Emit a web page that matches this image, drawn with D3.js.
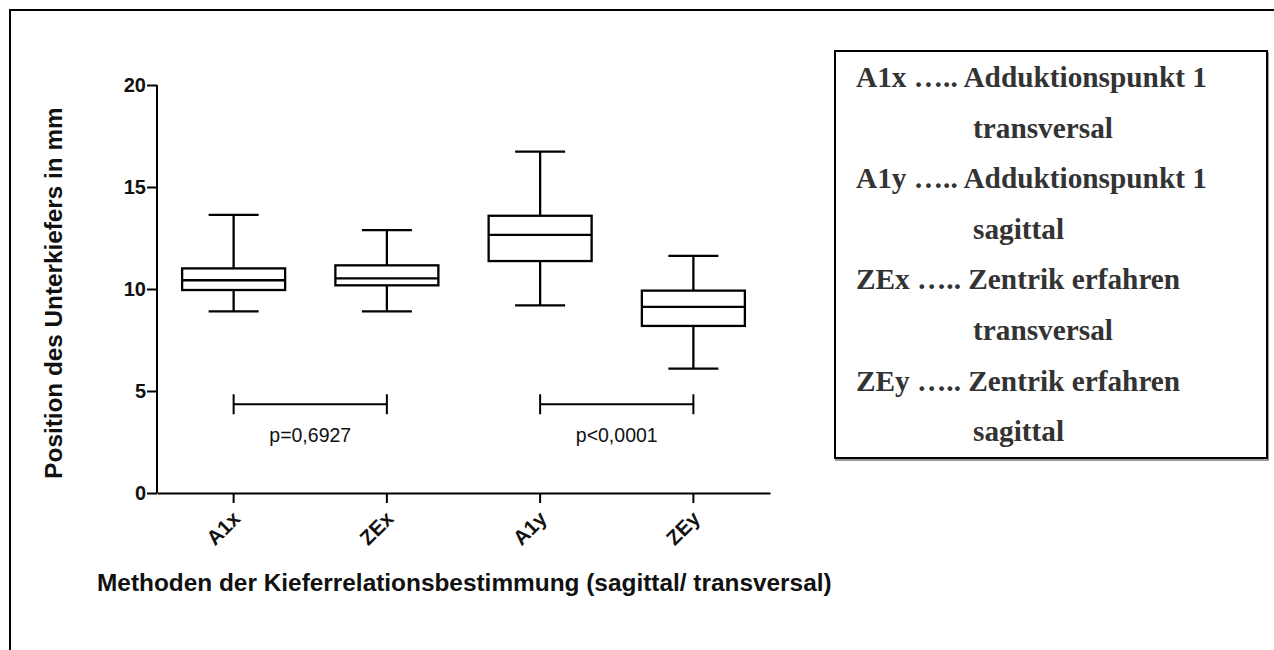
<!DOCTYPE html>
<html>
<head>
<meta charset="utf-8">
<script src="https://cdn.jsdelivr.net/npm/d3@7"></script>
<style>
  html, body { margin: 0; padding: 0; background: #fff; }
  svg { display: block; }
</style>
</head>
<body>
<svg id="chart" width="1274" height="650"></svg>
<script>
// Methods (x categories) and five-number summaries per method (mm)
const categories = ["A1x", "ZEx", "A1y", "ZEy"];
const whiskerLow  = [8.9, 8.9, 9.2, 6.1];
const quartile1   = [9.95, 10.18, 11.37, 8.19];
const medians     = [10.43, 10.52, 12.65, 9.12];
const quartile3   = [11.01, 11.16, 13.59, 9.92];
const whiskerHigh = [13.63, 12.89, 16.73, 11.62];

// Y axis ticks
const yTicks = [0, 5, 10, 15, 20];

// Significance comparisons: pairs of categories, bracket level (mm) and label
const compFrom   = ["A1x", "A1y"];
const compTo     = ["ZEx", "ZEy"];
const compLevel  = [4.35, 4.35];
const compLabels = ["p=0,6927", "p<0,0001"];

// Legend entries (abbreviation line + indented continuation line)
const legendMain = [
  "A1x \u2026.. Adduktionspunkt 1",
  "A1y \u2026.. Adduktionspunkt 1",
  "ZEx \u2026.. Zentrik erfahren",
  "ZEy \u2026.. Zentrik erfahren"
];
const legendSub = ["transversal", "sagittal", "transversal", "sagittal"];

const yTitle = "Position des Unterkiefers in mm";
const xTitle = "Methoden der Kieferrelationsbestimmung (sagittal/ transversal)";

const svg = d3.select("#chart");

// Outer frame
svg.append("rect")
  .attr("x", 10).attr("y", 10)
  .attr("width", 1300).attr("height", 700)
  .attr("fill", "none").attr("stroke", "#000").attr("stroke-width", 2);

const x = d3.scaleBand().domain(categories).range([157, 770]).padding(0);
const y = d3.scaleLinear().domain([0, 20]).range([493, 85]);

const axisFont = "Arial, 'Liberation Sans', sans-serif";

// Y axis
const yAxis = svg.append("g")
  .attr("transform", "translate(157,0)")
  .call(d3.axisLeft(y).tickValues(yTicks).tickSize(10).tickPadding(1).tickFormat(d3.format("d")));
yAxis.select(".domain").attr("stroke-width", 2).attr("d", `M0,${y(20)}V${y(0)}`);
yAxis.selectAll(".tick line").attr("stroke-width", 2);
yAxis.selectAll(".tick text")
  .attr("font-family", axisFont).attr("font-size", 20).attr("font-weight", "bold")
  .attr("fill", "#111");

// X axis
const xAxis = svg.append("g")
  .attr("transform", `translate(0,${y(0)})`)
  .call(d3.axisBottom(x).tickSize(10).tickSizeOuter(0));
xAxis.select(".domain").attr("stroke-width", 2);
xAxis.selectAll(".tick line").attr("stroke-width", 2);
xAxis.selectAll(".tick text")
  .attr("font-family", axisFont).attr("font-size", 20.5).attr("font-weight", "bold")
  .attr("fill", "#111")
  .attr("text-anchor", "end")
  .attr("dy", "0")
  .attr("transform", "translate(8,27) rotate(-45)")
  .attr("y", 0).attr("x", 0);

// Box plots
const boxW = 103, capW = 50;
const boxes = svg.append("g").attr("fill", "none").attr("stroke", "#000").attr("stroke-width", 2.3);
categories.forEach((c, i) => {
  const cx = x(c) + x.bandwidth() / 2;
  const g = boxes.append("g");
  // whiskers
  g.append("line").attr("x1", cx).attr("x2", cx).attr("y1", y(whiskerHigh[i])).attr("y2", y(quartile3[i]));
  g.append("line").attr("x1", cx).attr("x2", cx).attr("y1", y(quartile1[i])).attr("y2", y(whiskerLow[i]));
  g.append("line").attr("x1", cx - capW / 2).attr("x2", cx + capW / 2).attr("y1", y(whiskerHigh[i])).attr("y2", y(whiskerHigh[i]));
  g.append("line").attr("x1", cx - capW / 2).attr("x2", cx + capW / 2).attr("y1", y(whiskerLow[i])).attr("y2", y(whiskerLow[i]));
  // box and median
  g.append("rect").attr("x", cx - boxW / 2).attr("width", boxW)
    .attr("y", y(quartile3[i])).attr("height", y(quartile1[i]) - y(quartile3[i]));
  g.append("line").attr("x1", cx - boxW / 2).attr("x2", cx + boxW / 2).attr("y1", y(medians[i])).attr("y2", y(medians[i]));
});

// Significance brackets
const comps = svg.append("g");
compFrom.forEach((f, i) => {
  const x1 = x(f) + x.bandwidth() / 2;
  const x2 = x(compTo[i]) + x.bandwidth() / 2;
  const yy = y(compLevel[i]);
  comps.append("path")
    .attr("d", `M${x1},${yy}H${x2}M${x1},${yy - 10}V${yy + 10}M${x2},${yy - 10}V${yy + 10}`)
    .attr("fill", "none").attr("stroke", "#000").attr("stroke-width", 2);
  comps.append("text")
    .attr("x", (x1 + x2) / 2).attr("y", yy + 38)
    .attr("text-anchor", "middle")
    .attr("font-family", axisFont).attr("font-size", 19.5)
    .attr("fill", "#111")
    .text(compLabels[i]);
});

// Axis titles
svg.append("text")
  .attr("transform", "translate(62,293) rotate(-90)")
  .attr("text-anchor", "middle")
  .attr("font-family", axisFont).attr("font-size", 24.3).attr("font-weight", "bold")
  .attr("fill", "#111")
  .text(yTitle);

svg.append("text")
  .attr("x", 97).attr("y", 591)
  .attr("font-family", axisFont).attr("font-size", 24.4).attr("font-weight", "bold")
  .attr("fill", "#111")
  .text(xTitle);

// Legend box
const lg = svg.append("g");
lg.append("rect")
  .attr("x", 836).attr("y", 53).attr("width", 432).attr("height", 407)
  .attr("fill", "none").attr("stroke", "#9a9a9a").attr("stroke-width", 2);
lg.append("rect")
  .attr("x", 835).attr("y", 51).attr("width", 432).attr("height", 407)
  .attr("fill", "#fff").attr("stroke", "#000").attr("stroke-width", 2);

const serif = "'Times New Roman', 'Liberation Serif', serif";
const lineGap = 50.6;
legendMain.forEach((t, i) => {
  const base = 87 + i * 2 * lineGap;
  lg.append("text")
    .attr("x", 856).attr("y", base)
    .attr("font-family", serif).attr("font-size", 29.3).attr("font-weight", "bold")
    .attr("fill", "#333")
    .text(t);
  lg.append("text")
    .attr("x", 973).attr("y", base + lineGap)
    .attr("font-family", serif).attr("font-size", 29.3).attr("font-weight", "bold")
    .attr("fill", "#333")
    .text(legendSub[i]);
});
</script>
</body>
</html>
